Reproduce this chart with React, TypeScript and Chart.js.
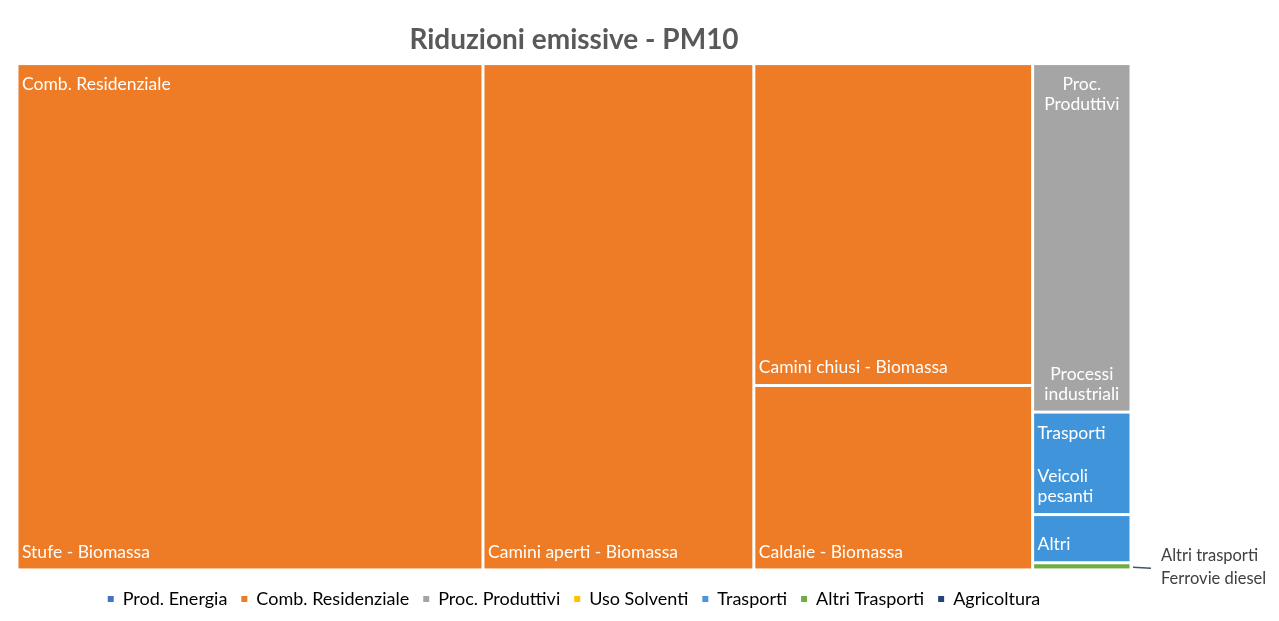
import React, { useEffect, useRef } from 'react';
import { Chart, registerables } from 'chart.js';

Chart.register(...registerables);

// ---------- data ----------
const TITLE = 'Riduzioni emissive - PM10';

const legendLabels = ['Prod. Energia', 'Comb. Residenziale', 'Proc. Produttivi', 'Uso Solventi', 'Trasporti', 'Altri Trasporti', 'Agricoltura'];
const legendColors = ['#4472C4', '#EE7B25', '#A5A5A5', '#FFC000', '#4A96DA', '#70AD47', '#264478'];

const groupNames = ['Comb. Residenziale', 'Proc. Produttivi', 'Trasporti', 'Altri trasporti'];
const groupColors = ['#EE7B25', '#A5A5A5', '#4095DA', '#70AD47'];
const groupAlign: CanvasTextAlign[] = ['left', 'center', 'left', 'left'];

const leafNames = ['Stufe - Biomassa', 'Camini aperti - Biomassa', 'Camini chiusi - Biomassa', 'Caldaie - Biomassa', 'Processi industriali', 'Veicoli pesanti', 'Altri', 'Ferrovie diesel'];
const leafGroup = [0, 0, 0, 0, 1, 2, 2, 3];
const leafValues = [234, 136, 89, 51, 34, 10, 4.7, 0.7];

// ---------- style ----------
const FONT = 'Lato, "Open Sans", sans-serif';
const LABEL_SIZE = 17.5;
const OUTSIDE_SIZE = 16.5;
const GAP = 3;
const Y_MIN = -0.012;

type R = { x: number; y: number; w: number; h: number };

function squarify(values: number[], rect: R): R[] {
  const order = values.map((v, i) => i).sort((a, b) => values[b] - values[a]);
  const vals = order.map((i) => values[i]);
  const res: R[] = new Array(values.length);
  let r = { ...rect };
  let total = vals.reduce((a, b) => a + b, 0);
  let i = 0;
  while (i < vals.length) {
    const scale = (r.w * r.h) / total;
    const short = Math.min(r.w, r.h);
    const worst = (row: number[]) => {
      const s = row.reduce((a, b) => a + b, 0) * scale;
      const mx = Math.max(...row) * scale;
      const mn = Math.min(...row) * scale;
      return Math.max((short * short * mx) / (s * s), (s * s) / (short * short * mn));
    };
    let row = [vals[i]];
    let j = i + 1;
    while (j < vals.length) {
      const next = [...row, vals[j]];
      if (worst(next) <= worst(row)) { row = next; j++; } else break;
    }
    const rowSum = row.reduce((a, b) => a + b, 0);
    const area = rowSum * scale;
    if (r.w >= r.h) {
      const t = area / r.h;
      let yy = r.y;
      row.forEach((v, k) => {
        const hh = (v * scale) / t;
        res[order[i + k]] = { x: r.x, y: yy, w: t, h: hh };
        yy += hh;
      });
      r = { x: r.x + t, y: r.y, w: r.w - t, h: r.h };
    } else {
      const t = area / r.w;
      let xx = r.x;
      row.forEach((v, k) => {
        const ww = (v * scale) / t;
        res[order[i + k]] = { x: xx, y: r.y, w: ww, h: t };
        xx += ww;
      });
      r = { x: r.x, y: r.y + t, w: r.w, h: r.h - t };
    }
    total -= rowSum;
    i = j;
  }
  return res;
}

function wrap(ctx: CanvasRenderingContext2D, text: string, maxW: number): string[] {
  const words = text.split(' ');
  const lines: string[] = [];
  let cur = '';
  for (const w of words) {
    const test = cur ? cur + ' ' + w : w;
    if (cur && ctx.measureText(test).width > maxW) {
      lines.push(cur);
      cur = w;
    } else cur = test;
  }
  if (cur) lines.push(cur);
  return lines;
}

const treemapPlugin = {
  id: 'treemap',
  afterDatasetsDraw(chart: any) {
    const { ctx, scales } = chart;
    const xs = scales.x;
    const ys = scales.y;
    const left = xs.getPixelForValue(0);
    const right = xs.getPixelForValue(1);
    const top = ys.getPixelForValue(1);
    const bottom = ys.getPixelForValue(0);

    const groupTotals = groupNames.map((_, g) =>
      leafValues.reduce((s, v, i) => (leafGroup[i] === g ? s + v : s), 0)
    );
    const groupRects = squarify(groupTotals, { x: left, y: top, w: right - left, h: bottom - top });

    ctx.save();
    ctx.textBaseline = 'middle';
    const lh = 20;

    groupNames.forEach((gName, g) => {
      const idx = leafValues.map((_, i) => i).filter((i) => leafGroup[i] === g);
      const rects = squarify(idx.map((i) => leafValues[i]), groupRects[g]);
      rects.forEach((rc) => {
        ctx.fillStyle = groupColors[g];
        ctx.fillRect(rc.x + GAP / 2, rc.y + GAP / 2, Math.max(rc.w - GAP, 1), Math.max(rc.h - GAP, 2));
      });
      const gr = groupRects[g];
      if (gr.h < 24) {
        const cy = gr.y + gr.h / 2;
        ctx.strokeStyle = '#44546A';
        ctx.lineWidth = 1.5;
        ctx.beginPath();
        ctx.moveTo(gr.x + gr.w + 2, cy + 1);
        ctx.lineTo(gr.x + gr.w + 20, cy + 2);
        ctx.stroke();
        ctx.font = `${OUTSIDE_SIZE}px ${FONT}`;
        ctx.fillStyle = '#404040';
        ctx.textAlign = 'left';
        const lines = [gName, ...idx.map((i) => leafNames[i])];
        const lh2 = 23;
        lines.forEach((ln, k) => {
          ctx.fillText(ln, gr.x + gr.w + 30, cy + 1 + (k - (lines.length - 1) / 2) * lh2);
        });
        return;
      }
      ctx.font = `${LABEL_SIZE}px ${FONT}`;
      ctx.fillStyle = '#FFFFFF';
      const align = groupAlign[g];
      ctx.textAlign = align;
      rects.forEach((rc, k) => {
        const lines = wrap(ctx, leafNames[idx[k]], rc.w - 12);
        const tx = align === 'center' ? rc.x + rc.w / 2 : rc.x + 5;
        const lastY = rc.y + rc.h - 18;
        lines.forEach((ln, n) => {
          ctx.fillText(ln, tx, lastY - (lines.length - 1 - n) * lh);
        });
      });
      const hl = wrap(ctx, gName, gr.w - 12);
      const hx = align === 'center' ? gr.x + gr.w / 2 : gr.x + 5;
      hl.forEach((ln, n) => {
        ctx.fillText(ln, hx, gr.y + 21 + n * lh);
      });
    });
    ctx.restore();
  },
};

export default function App() {
  const ref = useRef<HTMLCanvasElement | null>(null);
  useEffect(() => {
    if (!ref.current) return;
    const chart = new Chart(ref.current, {
      type: 'scatter',
      data: { datasets: [{ label: 'treemap', data: [] }] },
      options: {
        animation: false,
        responsive: false,
        events: [],
        layout: { padding: { left: 9, right: 140, top: 0, bottom: 0 } },
        scales: {
          x: { type: 'linear', min: 0, max: 1, display: false },
          y: { type: 'linear', min: Y_MIN, max: 1, display: false },
        },
        plugins: {
          tooltip: { enabled: false },
          title: {
            display: true,
            text: TITLE,
            color: '#595959',
            font: { family: FONT, size: 28, weight: 'bold' },
            padding: { top: 15, bottom: 7 },
          },
          legend: {
            display: true,
            position: 'bottom',
            labels: {
              color: '#595959',
              font: { family: FONT, size: 18 },
              usePointStyle: true,
              boxWidth: 6,
              boxHeight: 6,
              padding: 14,
              generateLabels: () =>
                legendLabels.map((t, i) => ({
                  text: t,
                  fillStyle: legendColors[i],
                  strokeStyle: legendColors[i],
                  lineWidth: 0,
                  pointStyle: 'rect',
                  hidden: false,
                  datasetIndex: 0,
                })),
            },
          },
        },
      },
      plugins: [treemapPlugin],
    });
    return () => chart.destroy();
  }, []);
  return (
    <div style={{ width: 1263, height: 610, marginBottom: -8 }}>
      <canvas ref={ref} width={1263} height={610} style={{ display: 'block' }} />
    </div>
  );
}
